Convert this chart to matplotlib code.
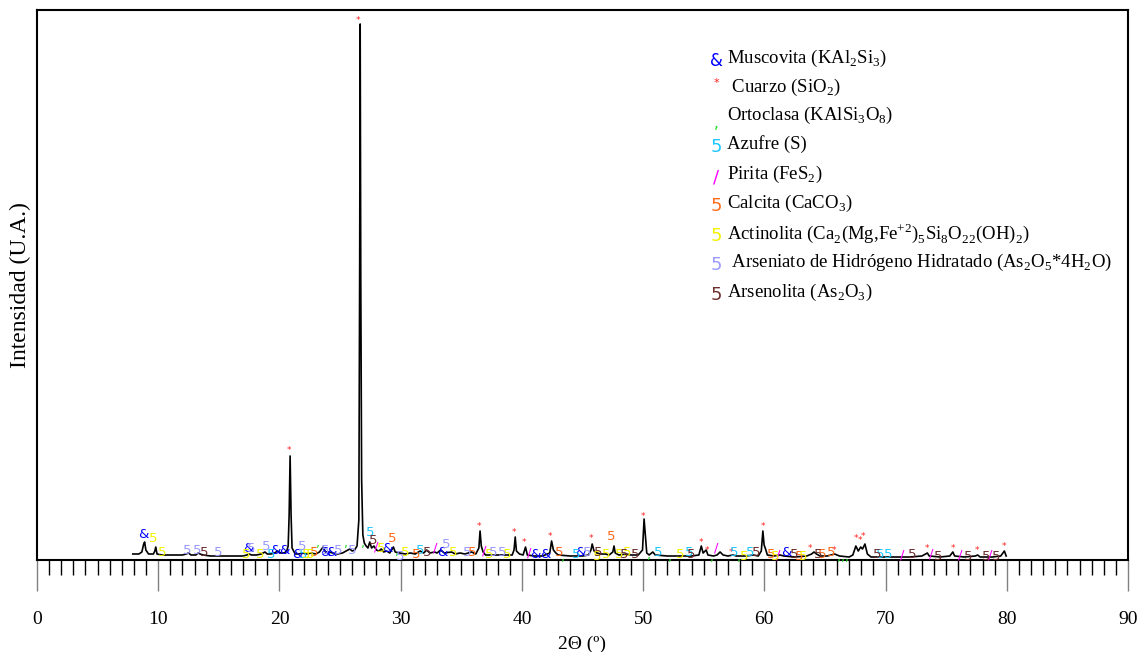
import matplotlib
matplotlib.use("Agg")
import matplotlib.pyplot as plt

plt.rcParams['font.family'] = ['Liberation Serif', 'DejaVu Serif']
plt.rcParams['mathtext.fontset'] = 'custom'
plt.rcParams['mathtext.rm'] = 'Liberation Serif'

# ---- XRD trace (2theta, intensity a.u.) ----
two_theta = [7.9, 8.4, 8.65, 8.8, 8.88, 8.98, 9.2, 9.6, 9.72, 9.8, 9.9, 10.3, 11.0, 12.0, 12.3, 12.5,
             12.7, 13.1, 13.3, 13.45, 13.7, 14.3, 15.0, 16.0, 17.0, 17.3, 17.5, 17.7, 18.1, 18.5, 18.8,
             19.0, 19.3, 19.6, 19.85, 20.1, 20.4, 20.6, 20.72, 20.8, 20.88, 20.96, 21.04, 21.3, 21.6,
             21.9, 22.2, 22.6, 23.0, 23.3, 23.6, 23.8, 24.1, 24.4, 24.8, 25.2, 25.5, 25.8, 26.0, 26.2,
             26.4, 26.55, 26.62, 26.66, 26.71, 26.78, 26.88, 27.0, 27.15, 27.3, 27.45, 27.6, 27.8, 28.0,
             28.2, 28.4, 28.6, 28.85, 29.1, 29.4, 29.55, 29.9, 30.4, 30.8, 31.2, 31.6, 31.9, 32.15, 32.4,
             32.8, 33.0, 33.3, 33.6, 34.2, 34.5, 34.9, 35.3, 35.85, 36.2, 36.45, 36.55, 36.65, 36.8, 37.0,
             37.6, 38.4, 39.2, 39.35, 39.45, 39.55, 39.8, 40.1, 40.3, 40.45, 41.0, 41.7, 42.3, 42.45,
             42.6, 42.8, 43.0, 44.0, 45.0, 45.5, 45.7, 45.8, 45.95, 46.2, 46.5, 46.9, 47.2, 47.5, 47.6,
             47.7, 48.0, 48.6, 49.0, 49.6, 49.95, 50.08, 50.2, 50.3, 50.5, 50.8, 51.0, 52.0, 53.0, 54.0,
             54.6, 54.8, 54.95, 55.2, 55.35, 55.8, 56.1, 56.35, 56.6, 57.0, 57.4, 57.7, 58.5, 59.1, 59.5,
             59.75, 59.88, 59.98, 60.1, 60.25, 60.8, 61.3, 61.6, 62.5, 63.5, 63.9, 64.1, 64.3, 64.6, 65.2,
             65.8, 66.2, 67.0, 67.3, 67.55, 67.75, 67.95, 68.1, 68.3, 68.5, 68.8, 70.0, 71.0, 72.0, 73.0,
             73.3, 73.45, 73.6, 74.5, 75.3, 75.55, 75.7, 76.5, 77.4, 77.6, 77.8, 78.8, 79.5, 79.8, 79.95]
intensity = [6, 6, 8, 16, 18, 10, 6, 6, 9, 13, 6, 5, 5, 5, 6, 7,
             5, 5, 7, 6, 5, 4, 4, 4, 4, 5, 6, 5, 5, 6, 8,
             6, 6, 7, 9, 7, 7, 9, 14, 45, 104, 45, 12, 6, 6,
             7, 6, 7, 6, 8, 13, 8, 8, 7, 6, 7, 9, 11, 9, 10,
             14, 40, 300, 536, 280, 80, 25, 17, 14, 12, 18, 12, 14, 10,
             9, 11, 8, 9, 7, 13, 8, 7, 6, 7, 6, 9, 7, 10, 7,
             8, 7, 10, 7, 8, 6, 7, 6, 8, 6, 12, 29, 14, 8, 5,
             5, 5, 5, 10, 23, 9, 6, 5, 13, 5, 4, 4, 7, 19,
             10, 7, 5, 4, 4, 5, 10, 16, 9, 7, 6, 6, 5, 8, 14,
             7, 5, 6, 5, 5, 10, 41, 22, 7, 5, 8, 5, 4, 4, 4,
             5, 14, 7, 10, 5, 4, 5, 8, 5, 4, 5, 4, 4, 5, 4,
             9, 29, 15, 11, 5, 4, 5, 4, 3, 4, 6, 8, 6, 4, 4,
             6, 4, 3, 5, 14, 9, 13, 11, 16, 6, 3, 3, 3, 3, 4,
             6, 7, 4, 3, 4, 8, 4, 3, 4, 5, 3, 3, 4, 9, 4]

# ---- phase identification marks (2theta, height of the mark) ----
musc_x = [8.8, 17.45, 19.7, 20.4, 21.47, 23.8, 24.3, 28.9, 33.45, 41.08, 41.9, 44.85, 61.85]
musc_y = [26, 11, 9, 9, 5, 8, 8, 11, 8, 6, 6, 7, 8]
cuarzo_x = [20.8, 26.5, 36.44, 39.35, 40.17, 42.3, 45.7, 50.0, 54.75, 55.25, 57.25, 59.87, 63.8,
            65.75, 67.56, 67.9, 68.17, 73.4, 75.53, 77.57, 79.77]
cuarzo_y = [109, 540, 33, 27, 17, 23, 21, 44, 17, 10, 8, 34, 12, 9, 21, 19, 23, 11, 12, 9, 13]
orto_x = [23.2, 25.5, 26.87, 29.67, 43.4, 50.45, 52.2, 55.65, 57.94, 66.2, 66.5, 66.8]
orto_y = [16, 16, 16, 8, 3, 4, 3, 3, 3, 3, 3, 3]
azufre_x = [19.3, 21.95, 27.47, 31.65, 44.45, 51.25, 53.8, 57.55, 58.8, 69.55, 70.2]
azufre_y = [5, 5, 27, 10, 6, 7, 7, 7, 7, 5, 6]
pirita_x = [27.97, 32.83, 36.87, 40.6, 56.07, 61.15, 71.4, 73.75, 76.2, 78.6]
pirita_y = [13, 12, 9, 7, 12, 5, 5, 6, 5, 5]
calcita_x = [22.9, 29.3, 31.3, 35.9, 43.1, 47.38, 60.55, 62.9, 64.8, 65.5]
calcita_y = [7, 21, 5, 7, 7, 23, 5, 4, 6, 7]
actin_x = [9.6, 10.34, 17.24, 18.4, 22.2, 22.5, 28.4, 30.36, 34.3, 37.3, 38.75, 46.2, 46.95,
           48.05, 48.7, 53.05, 58.35, 60.93, 63.2]
actin_y = [21, 8, 6, 6, 5, 5, 12, 8, 8, 5, 5, 4, 6, 5, 7, 5, 4, 4, 3]
arsen_x = [12.35, 13.25, 14.96, 17.7, 18.9, 21.9, 23.76, 24.86, 26.0, 29.95, 33.74, 35.45, 37.6,
           38.4, 45.35]
arsen_y = [10, 9, 8, 11, 14, 13, 10, 9, 9, 4, 15, 7, 7, 8, 7]
arsenol_x = [13.8, 27.74, 32.2, 46.3, 48.4, 49.35, 54.0, 59.33, 62.5, 64.47, 69.3, 72.2, 74.35,
             76.8, 78.3, 79.1]
arsenol_y = [7, 19, 8, 7, 5, 6, 6, 7, 6, 6, 5, 5, 4, 4, 4, 4]

phases = [
    ('&', '#0000FF', 9.5, musc_x, musc_y, r'Muscovita (KAl$_\mathregular{2}$Si$_\mathregular{3}$)'),
    ('*', '#FF2020', 6.5, cuarzo_x, cuarzo_y, r' Cuarzo (SiO$_\mathregular{2}$)'),
    (',', '#22DD22', 9, orto_x, orto_y, r'Ortoclasa (KAlSi$_\mathregular{3}$O$_\mathregular{8}$)'),
    ('5', '#1EC8FF', 9.5, azufre_x, azufre_y, 'Azufre (S)'),
    ('/', '#FF00FF', 9.5, pirita_x, pirita_y, r'Pirita (FeS$_\mathregular{2}$)'),
    ('5', '#FF6A1A', 9.5, calcita_x, calcita_y, r'Calcita (CaCO$_\mathregular{3}$)'),
    ('5', '#F2F200', 9.5, actin_x, actin_y,
     r'Actinolita (Ca$_\mathregular{2}$(Mg,Fe$^\mathregular{+2}$)$_\mathregular{5}$Si$_\mathregular{8}$O$_\mathregular{22}$(OH)$_\mathregular{2}$)'),
    ('5', '#9A9AFF', 9.5, arsen_x, arsen_y,
     r' Arseniato de Hidrógeno Hidratado (As$_\mathregular{2}$O$_\mathregular{5}$*4H$_\mathregular{2}$O)'),
    ('5', '#6E2E2E', 9.5, arsenol_x, arsenol_y, r'Arsenolita (As$_\mathregular{2}$O$_\mathregular{3}$)'),
]

W, H = 1141, 652
fig = plt.figure(figsize=(W / 100, H / 100), dpi=100)
ax = fig.add_axes([37 / W, 1 - 560 / H, (1128 - 37) / W, (560 - 10) / H])

ax.plot(two_theta, intensity, color='black', lw=1.2, zorder=3)

for sym, col, fs, xs, ys, _ in phases:
    for x, y in zip(xs, ys):
        ax.text(x, y, sym, color=col, fontsize=fs, ha='center', va='center',
                family='DejaVu Sans', zorder=4)

ax.set_xlim(0, 90)
ax.set_ylim(0, 550)
ax.set_xticks(range(0, 91, 10))
ax.set_xticks(range(0, 91, 1), minor=True)
ax.set_yticks([])
ax.tick_params(axis='x', which='major', direction='out', length=22.5, width=1.0,
               color='#808080', labelsize=14, pad=14)
ax.tick_params(axis='x', which='minor', direction='out', length=11, width=1.0, color='black')
for s in ax.spines.values():
    s.set_linewidth(1.5)

ax.set_xlabel('2Θ (º)', fontsize=14, labelpad=6)
ax.set_ylabel('Intensidad (U.A.)', fontsize=17, labelpad=4)

# legend drawn as text, in pixel positions of the reference
leg_y = [58, 87, 115, 144, 174, 203, 233, 262, 292]
sym_dy = [3, -4, 9, 3, 4, 3, 3, 3, 3]
leg_fs = [12, 8, 11, 13, 13, 13, 13, 13, 13]
for (sym, col, _, _, _, label), y, dy, lfs in zip(phases, leg_y, sym_dy, leg_fs):
    fig.text(716 / W, 1 - (y + dy) / H, sym, color=col, fontsize=lfs,
             ha='center', va='center', family='DejaVu Sans')
    fig.text(727 / W, 1 - y / H, label, fontsize=13.5, ha='left', va='center')

fig.savefig('out.png', dpi=100)
